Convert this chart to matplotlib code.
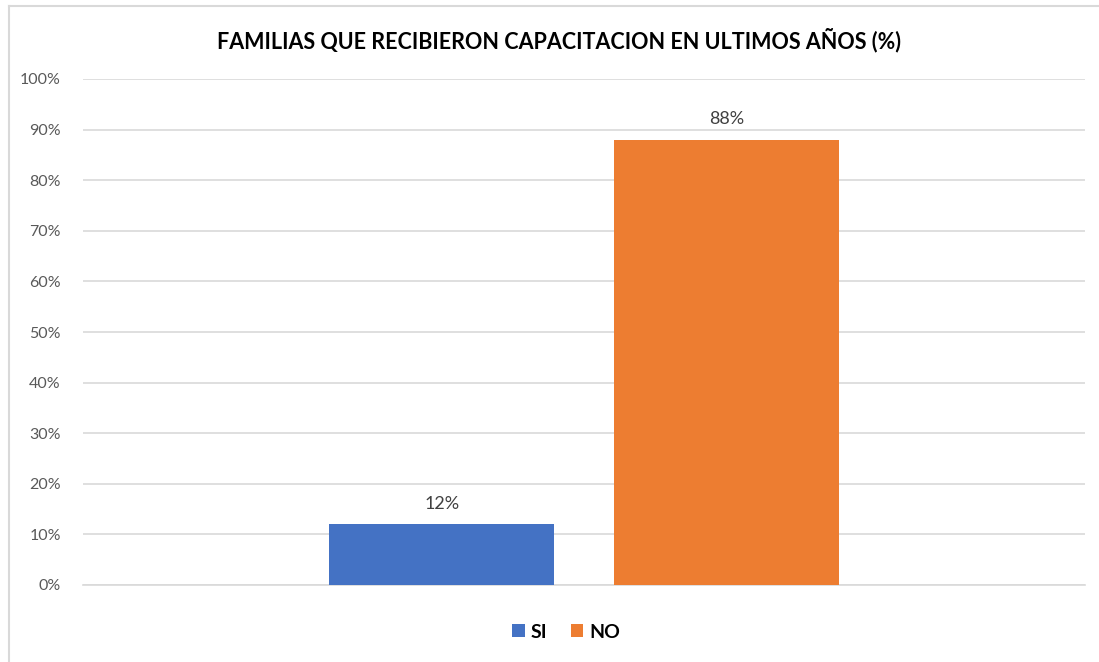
import matplotlib
matplotlib.use("Agg")
import matplotlib.pyplot as plt
from matplotlib.lines import Line2D

plt.rcParams["font.family"] = ["Lato", "DejaVu Sans"]

series = ["SI", "NO"]
values = [12, 88]
colors = ["#4472C4", "#ED7D31"]
yticks = list(range(0, 101, 10))

fig = plt.figure(figsize=(10.99, 6.62), dpi=100)
# chart frame: only the left and top edges are inside the picture
x0, y0 = 8.5 / 1099, 1 - 5.5 / 662
fig.lines.append(Line2D([x0, x0], [0, y0], transform=fig.transFigure,
                        color="#D9D9D9", linewidth=1.5))
fig.lines.append(Line2D([x0, 1], [y0, y0], transform=fig.transFigure,
                        color="#D9D9D9", linewidth=1.5))

ax = fig.add_axes([83 / 1099, 1 - 585 / 662, 1002 / 1099, 506 / 662])
group_center = 0.5
offsets = [-0.142, 0.142]
width = 0.224
for name, val, col, off in zip(series, values, colors, offsets):
    ax.bar(group_center + off, val, width=width, color=col, label=name, zorder=3)
    ax.text(group_center + off, val + 2.5, f"{val}%", ha="center", va="bottom",
            fontsize=13, color="#404040")

ax.set_xlim(0, 1)
ax.set_ylim(0, 100)
ax.set_yticks(yticks)
ax.set_yticklabels([f"{t}%" for t in yticks], fontsize=11.5, color="#595959")
ax.set_xticks([])
ax.yaxis.grid(True, color="#D9D9D9", linewidth=1.2, zorder=0)
ax.tick_params(axis="y", length=0, pad=16)
for s in ["top", "right", "left"]:
    ax.spines[s].set_visible(False)
ax.spines["bottom"].set_color("#D9D9D9")
ax.spines["bottom"].set_linewidth(1.2)

fig.text(559 / 1099, 1 - 40 / 662, "FAMILIAS QUE RECIBIERON CAPACITACION EN ULTIMOS AÑOS (%)",
         ha="center", va="center", fontsize=15.5, fontweight="bold", color="#000000")

fig.legend(loc="center", bbox_to_anchor=(566 / 1099, 1 - 632 / 662), ncol=2,
           frameon=False, prop={"size": 14, "weight": "bold"},
           handlelength=0.65, handleheight=0.65, handletextpad=0.3, columnspacing=1.2)

fig.savefig("out.png", dpi=100)
